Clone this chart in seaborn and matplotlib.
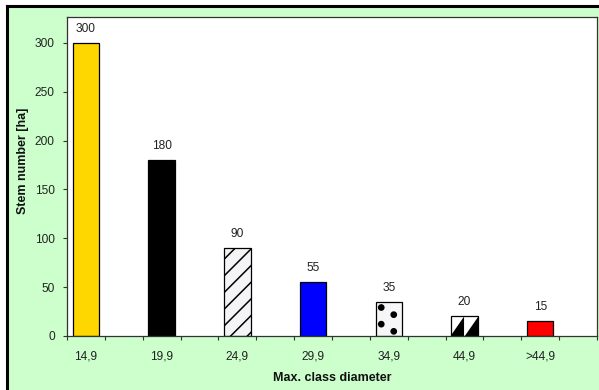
import numpy as np
import pandas as pd
import matplotlib
matplotlib.use("Agg")
import matplotlib.pyplot as plt
import matplotlib.hatch as mhatch
from matplotlib.path import Path
from matplotlib.patches import Rectangle
from matplotlib.lines import Line2D
import seaborn as sns

# Stem numbers per diameter class
classes = ["14,9", "19,9", "24,9", "29,9", "34,9", "44,9", ">44,9"]
stems = [300, 180, 90, 55, 35, 20, 15]

# Bar styling (fill colour and fill pattern per class)
face_colors = ["#FFD700", "#000000", "#F4F4F7", "#0000FF", "#F6F6F8", "#FFFFFF", "#FF0000"]
hatches = [None, None, "//", None, "O", "*", None]


# --- custom fill patterns: big filled dots ('O') and a saw-tooth ('*') ---
def _wrapped(polys):
    out = []
    for p in polys:
        lo, hi = p.min(axis=0), p.max(axis=0)
        xs = [0] + ([1] if lo[0] < 0 else []) + ([-1] if hi[0] > 1 else [])
        ys = [0] + ([1] if lo[1] < 0 else []) + ([-1] if hi[1] > 1 else [])
        for dx in xs:
            for dy in ys:
                out.append(p + np.array([dx, dy]))
    return out


class _PolygonHatch(mhatch.HatchPatternBase):
    char = None

    def __init__(self, hatch, density):
        self.polys = _wrapped(self.shapes()) if self.char in hatch else []
        self.num_vertices = sum(len(p) + 1 for p in self.polys)

    def shapes(self):
        return []

    def set_vertices_and_codes(self, vertices, codes):
        i = 0
        for p in self.polys:
            n = len(p)
            vertices[i:i + n] = p
            vertices[i + n] = p[0]
            codes[i] = Path.MOVETO
            codes[i + 1:i + n] = Path.LINETO
            codes[i + n] = Path.CLOSEPOLY
            i += n + 1


class BigDots(_PolygonHatch):
    char = "O"

    def shapes(self):
        t = np.linspace(0, 2 * np.pi, 20, endpoint=False)
        circ = np.column_stack([np.cos(t), np.sin(t)]) * 0.026
        polys = []
        for i in range(4):
            for j in range(6):
                polys.append(circ + [(i + 0.25) / 4, ((j + 0.55) / 6) % 1])
                polys.append(circ + [(i + 0.75) / 4, ((j + 0.12) / 6) % 1])
        return polys


class SawTooth(_PolygonHatch):
    char = "*"

    def shapes(self):
        polys = []
        for k in range(7):
            xr = (k + 0.43) / 7
            for y0 in (0.63, 0.13):
                polys.append(np.array([[xr - 0.125, y0], [xr, y0], [xr, y0 + 0.18]]))
        return polys


mhatch._hatch_types = [t for t in mhatch._hatch_types
                       if t not in (mhatch.LargeCircles, mhatch.Stars)] + [BigDots, SawTooth]

plt.rcParams["font.family"] = ["Liberation Sans", "DejaVu Sans"]
plt.rcParams["hatch.linewidth"] = 1.1
plt.rcParams["hatch.color"] = "black"

GREEN = "#CCFFCC"

fig = plt.figure(figsize=(5.99, 3.90), dpi=100, facecolor="white",
                 edgecolor="white", linewidth=0)
# green chart area with a black frame along its top and left edges
fig.patches.append(Rectangle((6.5 / 599, 0), 1, 384 / 390,
                             transform=fig.transFigure, facecolor=GREEN,
                             edgecolor="none", linewidth=0, zorder=-2))
fig.lines.append(Line2D([6.5 / 599, 1.01], [384 / 390, 384 / 390],
                        transform=fig.transFigure, color="black",
                        linewidth=2.2, solid_capstyle="projecting", zorder=-1))
fig.lines.append(Line2D([6.5 / 599, 6.5 / 599], [-0.01, 384 / 390],
                        transform=fig.transFigure, color="black",
                        linewidth=2.2, solid_capstyle="projecting", zorder=-1))

ax = fig.add_axes([67 / 599, 54 / 390, 530 / 599, 319 / 390])
ax.set_facecolor("white")

df = pd.DataFrame({"diameter": classes, "stems": stems})
sns.barplot(data=df, x="diameter", y="stems", hue="diameter",
            palette=face_colors, legend=False, width=0.35, saturation=1,
            edgecolor="black", linewidth=0.9, ax=ax)

for bar, fc, h in zip(ax.patches, face_colors, hatches):
    bar.set_facecolor(fc)
    if h:
        bar.set_hatch(h)

for cont in ax.containers:
    ax.bar_label(cont, fmt="%d", padding=5.8, fontsize=8.6, color="#222222")

ax.set_xlim(-0.25, 6.75)
ax.set_ylim(0, 326.5)
ax.set_yticks(range(0, 301, 50))
ax.set_xticks(range(len(classes)))
ax.set_xticklabels(classes)
ax.set_xticks(np.arange(-0.25, 6.76, 0.5), minor=True)
ax.tick_params(axis="x", which="major", length=0, pad=10.5,
               labelsize=8.6, labelcolor="#222222")
ax.tick_params(axis="x", which="minor", length=3, width=0.8,
               direction="out", color="#333333", bottom=True)
ax.tick_params(axis="y", length=3, width=0.8, direction="out", pad=5.8,
               labelsize=8.6, labelcolor="#222222", color="#333333", left=True)
ax.grid(False)

for sp in ax.spines.values():
    sp.set_visible(True)
    sp.set_color("#333333")
    sp.set_linewidth(0.9)

ax.set_xlabel("Max. class diameter", fontweight="bold", fontsize=9, color="#111111")
ax.set_ylabel("Stem number [ha]", fontweight="bold", fontsize=9, color="#111111")
ax.xaxis.set_label_coords(0.5, -0.114)
ax.yaxis.set_label_coords(-0.071, 0.55)

fig.savefig("out.png", dpi=100)
